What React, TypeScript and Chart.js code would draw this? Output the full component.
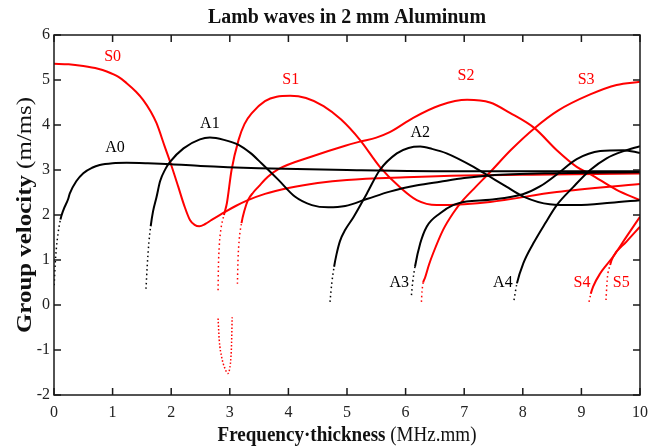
import React, { useEffect, useRef } from "react";
import { Chart, registerables } from "chart.js";

Chart.register(...registerables);

type P = [number, number];

const X_TICKS = [0, 1, 2, 3, 4, 5, 6, 7, 8, 9, 10];
const Y_TICKS = [-2, -1, 0, 1, 2, 3, 4, 5, 6];

// ---- antisymmetric modes (black) ----
const A0_DOT: P[] = [[0.003, 0.44], [0.02, 0.9], [0.04, 1.25], [0.07, 1.6], [0.11, 1.9]];
const A0: P[] = [[0.11, 1.9], [0.16, 2.11], [0.24, 2.35], [0.27, 2.48], [0.38, 2.75], [0.5, 2.93], [0.65, 3.05], [0.78, 3.11], [1.0, 3.15], [1.24, 3.16], [1.6, 3.15], [2.0, 3.13], [2.5, 3.09], [3.5, 3.04], [5.0, 3.0], [7.0, 2.97], [10, 2.97]];

const A1_DOT: P[] = [[1.57, 0.36], [1.59, 0.85], [1.62, 1.4], [1.65, 1.75]];
const A1: P[] = [[1.65, 1.75], [1.69, 2.08], [1.75, 2.4], [1.81, 2.75], [1.9, 3.02], [1.98, 3.18], [2.21, 3.48], [2.49, 3.68], [2.66, 3.72], [2.9, 3.67], [3.15, 3.56], [3.35, 3.38], [3.54, 3.15], [3.83, 2.78], [4.11, 2.41], [4.4, 2.22], [4.68, 2.17], [4.97, 2.2], [5.35, 2.36], [5.73, 2.52], [6.2, 2.66], [6.59, 2.74], [7.0, 2.82], [7.44, 2.88], [8.5, 2.93], [10, 2.95]];

const A2_DOT: P[] = [[4.71, 0.07], [4.74, 0.48], [4.78, 0.85]];
const A2: P[] = [[4.78, 0.85], [4.82, 1.12], [4.88, 1.42], [4.97, 1.67], [5.11, 1.95], [5.34, 2.48], [5.56, 3.0], [5.85, 3.37], [6.05, 3.49], [6.25, 3.52], [6.45, 3.47], [6.7, 3.37], [7.16, 3.07], [7.44, 2.85], [7.72, 2.63], [8.01, 2.41], [8.46, 2.24], [8.92, 2.22], [9.5, 2.27], [10, 2.33]];

const A3_DOT: P[] = [[6.1, 0.22], [6.12, 0.5], [6.16, 0.85]];
const A3: P[] = [[6.16, 0.85], [6.25, 1.37], [6.36, 1.74], [6.59, 2.04], [6.81, 2.22], [7.04, 2.3], [7.44, 2.34], [8.0, 2.46], [8.3, 2.64], [8.58, 2.9], [8.92, 3.24], [9.32, 3.42], [9.72, 3.44], [10, 3.38]];

const A4_DOT: P[] = [[7.85, 0.11], [7.9, 0.48]];
const A4: P[] = [[7.9, 0.48], [8.01, 0.93], [8.18, 1.37], [8.38, 1.81], [8.58, 2.22], [8.86, 2.62], [9.15, 3.0], [9.43, 3.26], [9.72, 3.42], [10, 3.53]];

// ---- symmetric modes (red) ----
const S0_DOT: P[] = [];
const S0: P[] = [[0, 5.36], [0.25, 5.35], [0.5, 5.31], [0.75, 5.25], [0.9, 5.19], [1.1, 5.07], [1.24, 4.93], [1.4, 4.74], [1.52, 4.56], [1.65, 4.3], [1.75, 4.04], [1.89, 3.52], [1.99, 3.15], [2.12, 2.63], [2.22, 2.22], [2.32, 1.89], [2.4, 1.78], [2.48, 1.75], [2.58, 1.8], [2.69, 1.89], [2.92, 2.07], [3.1, 2.2], [3.31, 2.33], [3.6, 2.47], [4.0, 2.6], [4.5, 2.71], [5.0, 2.78], [6.0, 2.84], [7.0, 2.88], [8.5, 2.9], [10, 2.92]];

const S1_BACK: P[] = [[2.8, -0.3], [2.82, -0.78], [2.86, -1.15], [2.92, -1.42], [2.97, -1.52], [3.0, -1.4], [3.02, -1.15], [3.03, -0.86], [3.04, -0.27]];
const S1_DOT: P[] = [[2.8, 0.33], [2.805, 0.8], [2.82, 1.3], [2.85, 1.7], [2.9, 2.0]];
const S1: P[] = [[2.9, 2.0], [2.95, 2.26], [3.03, 3.0], [3.15, 3.67], [3.25, 4.02], [3.38, 4.27], [3.6, 4.53], [3.8, 4.63], [4.03, 4.65], [4.3, 4.6], [4.6, 4.42], [4.9, 4.12], [5.22, 3.67], [5.56, 3.07], [5.9, 2.62], [6.19, 2.33], [6.53, 2.22], [7.0, 2.24], [7.44, 2.29], [8.58, 2.51], [10, 2.69]];

const S2_DOT: P[] = [[3.13, 0.47], [3.14, 1.0], [3.16, 1.44], [3.2, 1.82]];
const S2: P[] = [[3.2, 1.82], [3.25, 2.1], [3.31, 2.33], [3.4, 2.5], [3.49, 2.63], [3.65, 2.85], [3.83, 3.02], [4.4, 3.3], [4.97, 3.54], [5.22, 3.63], [5.5, 3.72], [5.73, 3.84], [6.13, 4.16], [6.59, 4.44], [7.05, 4.56], [7.44, 4.5], [7.78, 4.27], [8.2, 3.93], [8.58, 3.44], [8.92, 3.07], [9.15, 2.91], [9.6, 2.56], [10, 2.33]];

const S3_DOT: P[] = [[6.27, 0.07], [6.28, 0.3], [6.3, 0.5]];
const S3: P[] = [[6.3, 0.5], [6.33, 0.6], [6.4, 0.9], [6.47, 1.15], [6.64, 1.67], [6.81, 2.04], [6.98, 2.33], [7.2, 2.63], [7.44, 2.95], [7.8, 3.45], [8.2, 3.93], [8.6, 4.32], [9.15, 4.68], [9.6, 4.89], [10, 4.96]];

const S4_DOT: P[] = [[9.13, 0.07], [9.16, 0.25]];
const S4: P[] = [[9.16, 0.25], [9.2, 0.41], [9.32, 0.7], [9.43, 0.89], [9.54, 1.07], [9.77, 1.52], [10, 1.96]];

const S5_DOT: P[] = [[9.42, 0.11], [9.44, 0.56], [9.49, 0.89]];
const S5: P[] = [[9.49, 0.89], [9.54, 1.07], [9.77, 1.41], [10, 1.74]];

// ---- mode labels ----
const LABEL_NAMES = ["S0", "A0", "A1", "S1", "A2", "S2", "S3", "A3", "A4", "S4", "S5"];
const LABEL_X = [1.0, 1.04, 2.66, 4.04, 6.25, 7.03, 9.08, 5.89, 7.66, 9.01, 9.68];
const LABEL_Y = [5.51, 3.49, 4.02, 5.0, 3.82, 5.09, 5.0, 0.49, 0.49, 0.49, 0.49];

const TITLE = "Lamb waves in 2 mm Aluminum";
const X_TITLE_BOLD = "Frequency·thickness ";
const X_TITLE_REG = "(MHz.mm)";
const Y_TITLE_BOLD = "Group velocity ";
const Y_TITLE_REG = "(m/ms)";

const RED = "#ff0000";
const BLACK = "#000000";
const FONT = "'Liberation Serif', 'Times New Roman', serif";
const DOT_DASH = [1.5, 3];

function toPts(a: P[]) {
  return a.map(([x, y]) => ({ x, y }));
}

function drawParts(
  ctx: CanvasRenderingContext2D,
  parts: { t: string; bold: boolean }[],
  cx: number,
  cy: number,
  size: number,
  targetW: number,
  rotate: boolean
) {
  ctx.save();
  ctx.translate(cx, cy);
  if (rotate) ctx.rotate(-Math.PI / 2);
  let w = 0;
  const widths = parts.map((p) => {
    ctx.font = `${p.bold ? "bold " : ""}${size}px ${FONT}`;
    const m = ctx.measureText(p.t).width;
    w += m;
    return m;
  });
  const s = targetW > 0 ? targetW / w : 1;
  ctx.scale(s, 1);
  let x = -w / 2;
  ctx.textBaseline = "middle";
  ctx.textAlign = "left";
  ctx.fillStyle = "#111";
  parts.forEach((p, i) => {
    ctx.font = `${p.bold ? "bold " : ""}${size}px ${FONT}`;
    ctx.fillText(p.t, x, 0);
    x += widths[i];
  });
  ctx.restore();
}

const decor = {
  id: "decor",
  afterDraw(chart: any) {
    const { ctx, chartArea: a, scales } = chart;
    const xs = scales.x;
    const ys = scales.y;
    ctx.save();
    ctx.setLineDash([]);
    ctx.strokeStyle = "#1a1a1a";
    ctx.lineWidth = 1.5;
    ctx.lineCap = "butt";
    const L = a.left;
    const R = a.right;
    const T = a.top;
    const B = a.bottom;
    ctx.strokeRect(L, T, R - L, B - T);
    const TL = 7;
    ctx.beginPath();
    X_TICKS.forEach((v) => {
      const px = xs.getPixelForValue(v);
      ctx.moveTo(px, B);
      ctx.lineTo(px, B - TL);
      ctx.moveTo(px, T);
      ctx.lineTo(px, T + TL);
    });
    Y_TICKS.forEach((v) => {
      const py = ys.getPixelForValue(v);
      ctx.moveTo(L, py);
      ctx.lineTo(L + TL, py);
      ctx.moveTo(R, py);
      ctx.lineTo(R - TL, py);
    });
    ctx.stroke();

    // mode labels
    ctx.font = `16px ${FONT}`;
    ctx.textAlign = "center";
    ctx.textBaseline = "middle";
    LABEL_NAMES.forEach((n, i) => {
      ctx.fillStyle = n[0] === "S" ? RED : BLACK;
      ctx.fillText(n, xs.getPixelForValue(LABEL_X[i]), ys.getPixelForValue(LABEL_Y[i]));
    });
    ctx.restore();

    const cx = (a.left + a.right) / 2;
    drawParts(ctx, [{ t: TITLE, bold: true }], cx, a.top - 17, 20, 278, false);
    drawParts(
      ctx,
      [
        { t: X_TITLE_BOLD, bold: true },
        { t: X_TITLE_REG, bold: false },
      ],
      cx,
      a.bottom + 41,
      20,
      259,
      false
    );
    drawParts(
      ctx,
      [
        { t: Y_TITLE_BOLD, bold: true },
        { t: Y_TITLE_REG, bold: false },
      ],
      a.left - 28,
      (a.top + a.bottom) / 2,
      20,
      236,
      true
    );
  },
};

function curve(label: string, dot: P[], solid: P[], color: string) {
  const pts = dot.length ? [...dot, ...solid.slice(1)] : solid;
  const nDot = dot.length ? dot.length - 1 : 0;
  return {
    label,
    data: toPts(pts),
    borderColor: color,
    backgroundColor: color,
    borderWidth: 2,
    pointRadius: 0,
    cubicInterpolationMode: "monotone",
    fill: false,
    segment: {
      borderDash: (c: any) => (c.p1DataIndex <= nDot ? DOT_DASH : undefined),
      borderWidth: (c: any) => (c.p1DataIndex <= nDot ? 1.5 : undefined),
    },
  };
}

export default function App() {
  const ref = useRef<HTMLCanvasElement>(null);
  useEffect(() => {
    document.body.style.margin = "0";
    const datasets: any[] = [
      curve("A0", A0_DOT, A0, BLACK),
      curve("A1", A1_DOT, A1, BLACK),
      curve("A2", A2_DOT, A2, BLACK),
      curve("A3", A3_DOT, A3, BLACK),
      curve("A4", A4_DOT, A4, BLACK),
      curve("S0", S0_DOT, S0, RED),
      curve("S1", S1_DOT, S1, RED),
      curve("S2", S2_DOT, S2, RED),
      curve("S3", S3_DOT, S3, RED),
      curve("S4", S4_DOT, S4, RED),
      curve("S5", S5_DOT, S5, RED),
      {
        label: "S1 backward",
        data: toPts(S1_BACK),
        borderColor: RED,
        backgroundColor: RED,
        borderWidth: 1.5,
        borderDash: [1.5, 2],
        pointRadius: 0,
        cubicInterpolationMode: "monotone",
        fill: false,
      },
    ];
    const chart = new Chart(ref.current!, {
      type: "line",
      data: { datasets },
      plugins: [decor],
      options: {
        animation: false,
        responsive: false,
        parsing: false as any,
        layout: { padding: { left: 0, right: 19, top: 35, bottom: 0 } },
        plugins: { legend: { display: false }, tooltip: { enabled: false }, title: { display: false } },
        scales: {
          x: {
            type: "linear",
            min: 0,
            max: 10,
            afterBuildTicks: (s: any) => {
              s.ticks = X_TICKS.map((v) => ({ value: v }));
            },
            afterFit: (s: any) => {
              s.height = 52;
            },
            grid: { display: false, drawTicks: false },
            border: { display: false },
            ticks: { color: "#222", padding: 8, font: { family: FONT, size: 16 }, maxRotation: 0 },
          },
          y: {
            type: "linear",
            min: -2,
            max: 6,
            afterBuildTicks: (s: any) => {
              s.ticks = Y_TICKS.map((v) => ({ value: v }));
            },
            afterFit: (s: any) => {
              s.width = 54;
            },
            grid: { display: false, drawTicks: false },
            border: { display: false },
            ticks: { color: "#222", padding: 4, font: { family: FONT, size: 16 } },
          },
        },
      },
    });
    return () => chart.destroy();
  }, []);
  return <canvas ref={ref} width={659} height={447} style={{ display: "block" }} />;
}
